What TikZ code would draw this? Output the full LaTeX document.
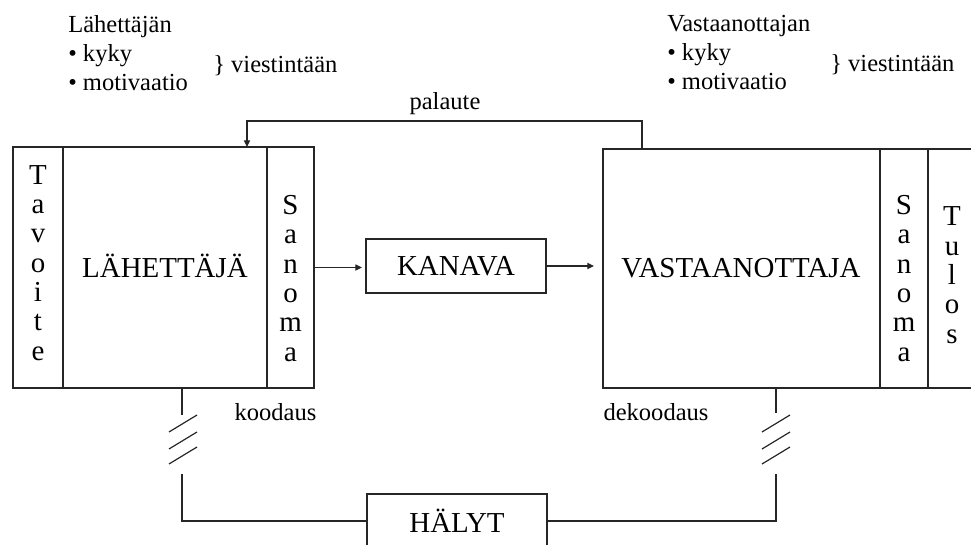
\documentclass[tikz,border=0pt]{standalone}
\usepackage{fontspec}
\setmainfont{Liberation Serif}
\usepackage{tikz}
\usetikzlibrary{arrows.meta,positioning}

\begin{document}
\begin{tikzpicture}[x=7.5pt,y=7.5pt,
  line/.style={draw=black!85, line width=0.9pt},
  arrow/.style={line, -{Triangle[length=5pt,width=4.6pt]}},
  block/.style={line, rectangle, inner sep=0pt, outer sep=0pt},
  big/.style={font=\fontsize{21.7}{22}\selectfont},
  small/.style={font=\fontsize{18.4}{21.8}\selectfont},
  stack/.style={big, align=center, anchor=north}]
\tikzstyle{every node}+=[inner sep=0pt]
\useasboundingbox (0,0) rectangle (97.1,-54.5);
\node[block, minimum width=153pt, minimum height=180.75pt] (sender) at (16.5,-26.75) {};
\node[block, minimum width=37.5pt, minimum height=180.75pt, left=0pt of sender] (tavoite) {};
\node[block, minimum width=35.25pt, minimum height=180.75pt, right=0pt of sender] (sanomaL) {};
\node[big, anchor=base] (senderText) at (16.5,-27.8) {LÄHETTÄJÄ};
\node[stack] (tavoiteText) at (3.8,-16.5) {T\\a\\v\\o\\i\\t\\e};
\node[stack] (sanomaLText) at (29.05,-19.5) {S\\a\\n\\o\\m\\a};
\node[block, big, minimum width=135pt, minimum height=40.5pt] (kanava) at (45.6,-26.6) {KANAVA};
\node[block, minimum width=207.75pt, minimum height=179.25pt] (receiver) at (74.15,-26.85) {};
\node[block, minimum width=36pt, minimum height=179.25pt, right=0pt of receiver] (sanomaR) {};
\node[block, minimum width=54pt, minimum height=179.25pt, right=0pt of sanomaR] (tulos) {};
\node[big, anchor=base] (receiverText) at (74.1,-27.8) {VASTAANOTTAJA};
\node[stack] (sanomaRText) at (90.4,-19.5) {S\\a\\n\\o\\m\\a};
\node[stack] (tulosText) at (95.2,-20.65) {T\\u\\l\\o\\s};
\node[block, big, minimum width=135pt, minimum height=40.5pt] (halyt) at (45.7,-52.1) {HÄLYT};
\draw[arrow, shorten >=3pt] (sanomaL.east) -- (sanomaL.east -| kanava.west);
\draw[arrow, shorten >=6.75pt] (kanava.east) -- (kanava.east -| receiver.west);
\coordinate (fbR) at (64.2,-12.1);
\coordinate (fbL) at (24.7,-12.1);
\draw[arrow] (fbR |- receiver.north) -- (fbR) -- (fbL) -- (fbL |- sender.north);
\node[small] (palaute) at (44.5,-10.4) {palaute};
\coordinate (noiseL) at (18.2,-52.1);
\coordinate (noiseR) at (77.6,-52.1);
\draw[line] (noiseL |- sender.south) -- (18.2,-41.5);
\draw[line] (halyt.west) -- (noiseL) -- (18.2,-47.4);
\draw[line] (noiseR |- receiver.south) -- (77.6,-41.3);
\draw[line] (halyt.east) -- (noiseR) -- (77.6,-47.4);
\foreach \y in {43.2,44.9,46.4} {
  \draw[line] (16.9,-\y) -- ++(2.8,1.7);
  \draw[line] (76.2,-\y) -- ++(2.8,1.7);
}
\node[small] (koodaus) at (27.55,-41.2) {koodaus};
\node[small] (dekoodaus) at (65.6,-41.2) {dekoodaus};
\node[small, align=left, anchor=north west] (senderCap) at (6.8,-1.53) {Lähettäjän\\• kyky\\• motivaatio};
\node[small, anchor=west] (senderBrace) at (21.3,-6.6) {\} viestintään};
\node[small, align=left, anchor=north west] (receiverCap) at (66.7,-1.53) {Vastaanottajan\\• kyky\\• motivaatio};
\node[small, anchor=west] (receiverBrace) at (83,-6.5) {\} viestintään};
\end{tikzpicture}
\end{document}
